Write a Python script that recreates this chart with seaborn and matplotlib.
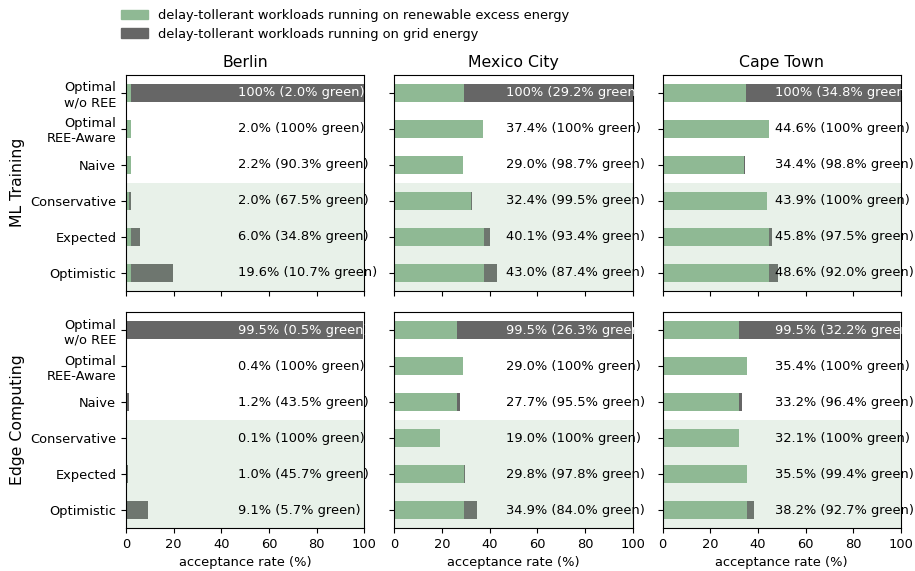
import matplotlib
matplotlib.use("Agg")
import matplotlib.pyplot as plt
import matplotlib.patches as mpatches
import numpy as np
import pandas as pd
import seaborn as sns

# Strategies (rows of every panel)
strategies = ["Optimal\nw/o REE", "Optimal\nREE-Aware", "Naive",
              "Conservative", "Expected", "Optimistic"]
cities = ["Berlin", "Mexico City", "Cape Town"]
scenarios = ["ML Training", "Edge Computing"]

# Total acceptance rate (%) and share of it running on excess renewable energy (%)
ml_berlin_rate = [100, 2.0, 2.2, 2.0, 6.0, 19.6]
ml_berlin_green = [2.0, 100, 90.3, 67.5, 34.8, 10.7]
ml_mexico_rate = [100, 37.4, 29.0, 32.4, 40.1, 43.0]
ml_mexico_green = [29.2, 100, 98.7, 99.5, 93.4, 87.4]
ml_cape_rate = [100, 44.6, 34.4, 43.9, 45.8, 48.6]
ml_cape_green = [34.8, 100, 98.8, 100, 97.5, 92.0]

edge_berlin_rate = [99.5, 0.4, 1.2, 0.1, 1.0, 9.1]
edge_berlin_green = [0.5, 100, 43.5, 100, 45.7, 5.7]
edge_mexico_rate = [99.5, 29.0, 27.7, 19.0, 29.8, 34.9]
edge_mexico_green = [26.3, 100, 95.5, 100, 97.8, 84.0]
edge_cape_rate = [99.5, 35.4, 33.2, 32.1, 35.5, 38.2]
edge_cape_green = [32.2, 100, 96.4, 100, 99.4, 92.7]

panels = {
    ("ML Training", "Berlin"): (ml_berlin_rate, ml_berlin_green),
    ("ML Training", "Mexico City"): (ml_mexico_rate, ml_mexico_green),
    ("ML Training", "Cape Town"): (ml_cape_rate, ml_cape_green),
    ("Edge Computing", "Berlin"): (edge_berlin_rate, edge_berlin_green),
    ("Edge Computing", "Mexico City"): (edge_mexico_rate, edge_mexico_green),
    ("Edge Computing", "Cape Town"): (edge_cape_rate, edge_cape_green),
}

GREEN = "#8fb994"
GREY = "#666666"
FS = 9.4

plt.rcParams["font.family"] = ["DejaVu Sans"]
plt.rcParams["font.size"] = FS

fig, axes = plt.subplots(2, 3, figsize=(9.15, 5.71), dpi=100,
                         sharex=True, sharey=True)
fig.subplots_adjust(left=0.1377, right=0.9847, top=0.8687, bottom=0.0753,
                    hspace=0.10, wspace=0.125)

for r, scen in enumerate(scenarios):
    for c, city in enumerate(cities):
        ax = axes[r, c]
        rate, green = panels[(scen, city)]
        df = pd.DataFrame({
            "strategy": strategies,
            "total": rate,
            "green": np.array(rate) * np.array(green) / 100.0,
        })
        sns.barplot(data=df, x="total", y="strategy", color=GREY, width=0.5,
                    linewidth=0, saturation=1, ax=ax, zorder=1)
        sns.barplot(data=df, x="green", y="strategy", color=GREEN, width=0.5,
                    linewidth=0, saturation=1, ax=ax, zorder=1)
        ax.axhspan(2.5, 5.5, color=GREEN, alpha=0.2, linewidth=0, zorder=2)
        for i, (t, g) in enumerate(zip(rate, green)):
            tlabel = "100%" if t == 100 else f"{t:.1f}%"
            glabel = "100%" if g == 100 else f"{g:.1f}%"
            ax.text(47, i, f"{tlabel} ({glabel} green)", va="center", ha="left",
                    fontsize=FS, color="white" if i == 0 else "black", zorder=5)
        ax.set_xlim(0, 100)
        ax.set_ylim(5.5, -0.5)
        ax.set_xticks([0, 20, 40, 60, 80, 100])
        ax.set_xlabel("acceptance rate (%)" if r == 1 else "", fontsize=FS)
        ax.set_ylabel(scen if c == 0 else "", fontsize=11.3)
        if r == 0:
            ax.set_title(city, fontsize=11.3)
        for s in ax.spines.values():
            s.set_visible(True)
            s.set_zorder(4)
        ax.tick_params(labelsize=FS)

handles = [mpatches.Patch(color=GREEN, label="delay-tollerant workloads running on renewable excess energy"),
           mpatches.Patch(color=GREY, label="delay-tollerant workloads running on grid energy")]
fig.legend(handles=handles, loc="upper left", bbox_to_anchor=(0.119, 1.005),
           frameon=False, fontsize=FS, handlelength=2.07, handleheight=0.75,
           handletextpad=0.8, labelspacing=0.45)

fig.savefig("out.png", dpi=100)
